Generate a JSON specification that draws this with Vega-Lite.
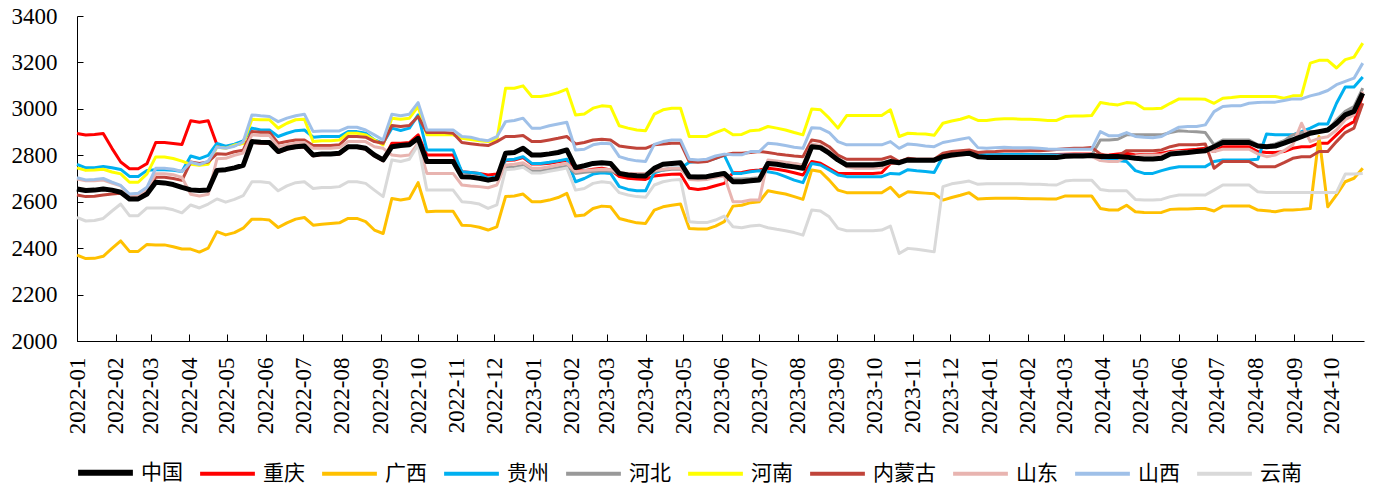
{
 "$schema": "https://vega.github.io/schema/vega-lite/v6.json",
 "width": 1287, "height": 325,
 "autosize": {"type": "none"},
 "padding": {"left": 77, "top": 16, "right": 9, "bottom": 148},
 "background": "white",
 "config": {"view": {"stroke": null}, "axis": {"grid": false}},
 "data": {"values": [
{"d":"2022-01-01","中国":2655,"重庆":2894,"广西":2370,"贵州":2761,"河北":2655,"河南":2746,"内蒙古":2629,"山东":2698,"山西":2703,"云南":2532},
{"d":"2022-01-08","中国":2648,"重庆":2887,"广西":2355,"贵州":2746,"河北":2648,"河南":2735,"内蒙古":2622,"山东":2690,"山西":2694,"云南":2517},
{"d":"2022-01-15","中国":2650,"重庆":2890,"广西":2356,"贵州":2746,"河北":2650,"河南":2737,"内蒙古":2624,"山东":2690,"山西":2696,"云南":2519},
{"d":"2022-01-22","中国":2655,"重庆":2894,"广西":2365,"贵州":2752,"河北":2655,"河南":2740,"内蒙古":2629,"山东":2693,"山西":2700,"云南":2528},
{"d":"2022-01-29","中国":2650,"重庆":2830,"广西":2399,"贵州":2746,"河北":2650,"河南":2728,"内蒙古":2633,"山东":2680,"山西":2684,"云南":2560},
{"d":"2022-02-05","中国":2641,"重庆":2771,"广西":2431,"贵州":2739,"河北":2641,"河南":2720,"内蒙古":2636,"山东":2668,"山西":2670,"云南":2590},
{"d":"2022-02-12","中国":2612,"重庆":2742,"广西":2386,"贵州":2709,"河北":2612,"河南":2684,"内蒙古":2616,"山东":2630,"山西":2633,"云南":2540},
{"d":"2022-02-19","中国":2612,"重庆":2742,"广西":2386,"贵州":2709,"河北":2612,"河南":2684,"内蒙古":2616,"山东":2630,"山西":2636,"云南":2540},
{"d":"2022-02-26","中国":2633,"重庆":2764,"广西":2416,"贵州":2735,"河北":2633,"河南":2720,"内蒙古":2641,"山东":2655,"山西":2662,"云南":2573},
{"d":"2022-03-05","中国":2684,"重庆":2855,"广西":2414,"贵州":2738,"河北":2684,"河南":2793,"内蒙古":2705,"山东":2720,"山西":2744,"云南":2573},
{"d":"2022-03-12","中国":2681,"重庆":2855,"广西":2414,"贵州":2738,"河北":2681,"河南":2793,"内蒙古":2705,"山东":2720,"山西":2744,"云南":2573},
{"d":"2022-03-19","中国":2674,"重庆":2851,"广西":2406,"贵州":2735,"河北":2674,"河南":2786,"内蒙古":2700,"山东":2716,"山西":2740,"云南":2565},
{"d":"2022-03-26","中国":2662,"重庆":2846,"广西":2396,"贵州":2730,"河北":2662,"河南":2775,"内蒙古":2692,"山东":2705,"山西":2730,"云南":2552},
{"d":"2022-04-02","中国":2651,"重庆":2949,"广西":2396,"贵州":2797,"河北":2651,"河南":2761,"内蒙古":2771,"山东":2632,"山西":2770,"云南":2586},
{"d":"2022-04-09","中国":2648,"重庆":2942,"广西":2383,"贵州":2786,"河北":2648,"河南":2757,"内蒙古":2765,"山东":2625,"山西":2760,"云南":2573},
{"d":"2022-04-16","中国":2650,"重庆":2949,"广西":2400,"贵州":2800,"河北":2650,"河南":2761,"内蒙古":2771,"山东":2632,"山西":2775,"云南":2590},
{"d":"2022-04-23","中国":2735,"重庆":2845,"广西":2471,"贵州":2851,"河北":2735,"河南":2836,"内蒙古":2807,"山东":2785,"山西":2836,"云南":2612},
{"d":"2022-04-30","中国":2738,"重庆":2835,"广西":2457,"贵州":2839,"河北":2738,"河南":2830,"内蒙古":2804,"山东":2787,"山西":2830,"云南":2598},
{"d":"2022-05-07","中国":2746,"重庆":2843,"广西":2467,"贵州":2848,"河北":2746,"河南":2844,"内蒙古":2815,"山东":2800,"山西":2839,"云南":2610},
{"d":"2022-05-14","中国":2757,"重庆":2854,"广西":2486,"贵州":2862,"河北":2757,"河南":2851,"内蒙古":2822,"山东":2810,"山西":2858,"云南":2626},
{"d":"2022-05-21","中国":2859,"重庆":2856,"广西":2525,"贵州":2917,"河北":2859,"河南":2955,"内蒙古":2902,"山东":2888,"山西":2974,"云南":2686},
{"d":"2022-05-28","中国":2856,"重庆":2853,"广西":2525,"贵州":2909,"河北":2856,"河南":2953,"内蒙古":2899,"山东":2885,"山西":2970,"云南":2686},
{"d":"2022-06-04","中国":2855,"重庆":2852,"广西":2521,"贵州":2909,"河北":2855,"河南":2953,"内蒙古":2899,"山东":2885,"山西":2967,"云南":2682},
{"d":"2022-06-11","中国":2816,"重庆":2813,"广西":2489,"贵州":2881,"河北":2816,"河南":2917,"内蒙古":2852,"山东":2837,"山西":2945,"云南":2647},
{"d":"2022-06-18","中国":2830,"重庆":2827,"广西":2509,"贵州":2895,"河北":2830,"河南":2938,"内蒙古":2859,"山东":2845,"山西":2960,"云南":2668},
{"d":"2022-06-25","中国":2837,"重庆":2834,"广西":2525,"贵州":2906,"河北":2837,"河南":2953,"内蒙古":2866,"山东":2852,"山西":2970,"云南":2682},
{"d":"2022-07-02","中国":2840,"重庆":2837,"广西":2532,"贵州":2909,"河北":2840,"河南":2955,"内蒙古":2866,"山东":2855,"山西":2977,"云南":2686},
{"d":"2022-07-09","中国":2801,"重庆":2798,"广西":2499,"贵州":2878,"河北":2801,"河南":2859,"内蒙古":2842,"山东":2830,"山西":2902,"云南":2657},
{"d":"2022-07-16","中国":2806,"重庆":2803,"广西":2503,"贵州":2881,"河北":2806,"河南":2863,"内蒙古":2842,"山东":2830,"山西":2905,"云南":2661},
{"d":"2022-07-23","中国":2806,"重庆":2803,"广西":2506,"贵州":2881,"河北":2806,"河南":2863,"内蒙古":2842,"山东":2830,"山西":2905,"云南":2661},
{"d":"2022-07-30","中国":2809,"重庆":2806,"广西":2509,"贵州":2881,"河北":2809,"河南":2866,"内蒙古":2845,"山东":2833,"山西":2905,"云南":2665},
{"d":"2022-08-06","中国":2837,"重庆":2834,"广西":2528,"贵州":2902,"河北":2837,"河南":2895,"内蒙古":2881,"山东":2859,"山西":2921,"云南":2686},
{"d":"2022-08-13","中国":2837,"重庆":2834,"广西":2528,"贵州":2902,"河北":2837,"河南":2895,"内蒙古":2881,"山东":2859,"山西":2921,"云南":2686},
{"d":"2022-08-20","中国":2830,"重庆":2827,"广西":2514,"贵州":2895,"河北":2830,"河南":2888,"内蒙古":2878,"山东":2859,"山西":2909,"云南":2679},
{"d":"2022-08-27","中国":2801,"重庆":2798,"广西":2478,"贵州":2866,"河北":2801,"河南":2866,"内蒙古":2859,"山东":2837,"山西":2888,"云南":2650},
{"d":"2022-09-03","中国":2780,"重庆":2777,"广西":2463,"贵州":2852,"河北":2780,"河南":2845,"内蒙古":2852,"山东":2830,"山西":2866,"云南":2622},
{"d":"2022-09-10","中国":2837,"重庆":2852,"广西":2614,"贵州":2917,"河北":2837,"河南":2960,"内蒙古":2928,"山东":2801,"山西":2977,"云南":2780},
{"d":"2022-09-17","中国":2842,"重庆":2852,"广西":2607,"贵州":2907,"河北":2842,"河南":2955,"内蒙古":2924,"山东":2797,"山西":2970,"云南":2773},
{"d":"2022-09-24","中国":2845,"重庆":2855,"广西":2614,"贵州":2917,"河北":2845,"河南":2960,"内蒙古":2928,"山东":2801,"山西":2977,"云南":2783},
{"d":"2022-10-01","中国":2873,"重庆":2888,"广西":2682,"贵州":2974,"河北":2873,"河南":3010,"内蒙古":2967,"山东":2852,"山西":3027,"云南":2845},
{"d":"2022-10-08","中国":2773,"重庆":2801,"广西":2557,"贵州":2823,"河北":2773,"河南":2888,"内蒙古":2898,"山东":2722,"山西":2909,"云南":2650},
{"d":"2022-10-15","中国":2773,"重庆":2801,"广西":2559,"贵州":2823,"河北":2773,"河南":2888,"内蒙古":2898,"山东":2722,"山西":2909,"云南":2650},
{"d":"2022-10-22","中国":2773,"重庆":2801,"广西":2559,"贵州":2823,"河北":2773,"河南":2888,"内蒙古":2898,"山东":2722,"山西":2909,"云南":2650},
{"d":"2022-10-29","中国":2773,"重庆":2801,"广西":2559,"贵州":2823,"河北":2773,"河南":2888,"内蒙古":2895,"山东":2722,"山西":2909,"云南":2650},
{"d":"2022-11-05","中国":2708,"重庆":2729,"广西":2499,"贵州":2729,"河北":2708,"河南":2873,"内蒙古":2855,"山东":2672,"山西":2881,"云南":2600},
{"d":"2022-11-12","中国":2706,"重庆":2726,"广西":2497,"贵州":2726,"河北":2706,"河南":2868,"内蒙古":2850,"山东":2668,"山西":2878,"云南":2597},
{"d":"2022-11-19","中国":2701,"重庆":2722,"广西":2490,"贵州":2722,"河北":2701,"河南":2863,"内蒙古":2845,"山东":2665,"山西":2868,"云南":2590},
{"d":"2022-11-26","中国":2693,"重庆":2715,"广西":2478,"贵州":2701,"河北":2693,"河南":2859,"内蒙古":2842,"山东":2660,"山西":2863,"云南":2571},
{"d":"2022-12-03","中国":2700,"重庆":2719,"广西":2492,"贵州":2708,"河北":2700,"河南":2866,"内蒙古":2859,"山东":2672,"山西":2880,"云南":2586},
{"d":"2022-12-10","中国":2809,"重庆":2778,"广西":2622,"贵州":2780,"河北":2746,"河南":3089,"内蒙古":2881,"山东":2758,"山西":2945,"云南":2738},
{"d":"2022-12-17","中国":2812,"重庆":2780,"广西":2625,"贵州":2783,"河北":2749,"河南":3089,"内蒙古":2881,"山东":2761,"山西":2950,"云南":2741},
{"d":"2022-12-24","中国":2830,"重庆":2790,"广西":2633,"贵州":2794,"河北":2756,"河南":3099,"内蒙古":2885,"山东":2768,"山西":2960,"云南":2748},
{"d":"2022-12-31","中国":2801,"重庆":2762,"广西":2600,"贵州":2765,"河北":2732,"河南":3053,"内蒙古":2859,"山东":2744,"山西":2917,"云南":2724},
{"d":"2023-01-07","中国":2801,"重庆":2762,"广西":2600,"贵州":2765,"河北":2732,"河南":3053,"内蒙古":2859,"山东":2744,"山西":2917,"云南":2724},
{"d":"2023-01-14","中国":2806,"重庆":2766,"广西":2607,"贵州":2770,"河北":2739,"河南":3060,"内蒙古":2866,"山东":2751,"山西":2927,"云南":2731},
{"d":"2023-01-21","中国":2812,"重庆":2772,"广西":2618,"贵州":2776,"河北":2746,"河南":3070,"内蒙古":2873,"山东":2758,"山西":2935,"云南":2738},
{"d":"2023-01-28","中国":2823,"重庆":2779,"广西":2636,"贵州":2783,"河北":2753,"河南":3085,"内蒙古":2881,"山东":2765,"山西":2942,"云南":2745},
{"d":"2023-02-04","中国":2747,"重庆":2737,"广西":2538,"贵州":2686,"河北":2722,"河南":2974,"内蒙古":2849,"山东":2729,"山西":2823,"云南":2650},
{"d":"2023-02-11","中国":2755,"重庆":2734,"广西":2543,"贵州":2700,"河北":2727,"河南":2978,"内蒙古":2855,"山东":2734,"山西":2826,"云南":2657},
{"d":"2023-02-18","中国":2765,"重庆":2740,"广西":2571,"贵州":2719,"河北":2730,"河南":3003,"内蒙古":2866,"山东":2737,"山西":2845,"云南":2679},
{"d":"2023-02-25","中国":2768,"重庆":2744,"广西":2581,"贵州":2725,"河北":2733,"河南":3013,"内蒙古":2869,"山东":2740,"山西":2852,"云南":2686},
{"d":"2023-03-04","中国":2765,"重庆":2737,"广西":2578,"贵州":2722,"河北":2731,"河南":3010,"内蒙古":2866,"山东":2738,"山西":2850,"云南":2682},
{"d":"2023-03-11","中国":2722,"重庆":2708,"广西":2528,"贵州":2665,"河北":2720,"河南":2927,"内蒙古":2840,"山东":2725,"山西":2794,"云南":2639},
{"d":"2023-03-18","中国":2715,"重庆":2701,"广西":2518,"贵州":2653,"河北":2715,"河南":2917,"内蒙古":2835,"山东":2722,"山西":2783,"云南":2629},
{"d":"2023-03-25","中国":2712,"重庆":2698,"广西":2509,"贵州":2647,"河北":2714,"河南":2909,"内蒙古":2830,"山东":2722,"山西":2776,"云南":2622},
{"d":"2023-04-01","中国":2711,"重庆":2696,"广西":2506,"贵州":2647,"河北":2713,"河南":2906,"内蒙古":2830,"山东":2722,"山西":2773,"云南":2619},
{"d":"2023-04-08","中国":2744,"重庆":2711,"广西":2564,"贵州":2725,"河北":2730,"河南":2977,"内蒙古":2845,"山东":2734,"山西":2847,"云南":2672},
{"d":"2023-04-15","中国":2761,"重庆":2715,"广西":2578,"贵州":2737,"河北":2736,"河南":2996,"内蒙古":2849,"山东":2740,"山西":2859,"云南":2686},
{"d":"2023-04-22","中国":2765,"重庆":2718,"广西":2585,"贵州":2744,"河北":2740,"河南":3003,"内蒙古":2852,"山东":2744,"山西":2866,"云南":2693},
{"d":"2023-04-29","中国":2768,"重庆":2719,"广西":2590,"贵州":2744,"河北":2740,"河南":3003,"内蒙古":2852,"山东":2744,"山西":2866,"云南":2696},
{"d":"2023-05-06","中国":2708,"重庆":2658,"广西":2485,"贵州":2770,"河北":2712,"河南":2881,"内蒙古":2773,"山东":2696,"山西":2783,"云南":2514},
{"d":"2023-05-13","中国":2706,"重庆":2653,"广西":2482,"贵州":2773,"河北":2710,"河南":2881,"内蒙古":2770,"山东":2693,"山西":2780,"云南":2510},
{"d":"2023-05-20","中国":2708,"重庆":2658,"广西":2482,"贵州":2775,"河北":2712,"河南":2881,"内蒙古":2773,"山东":2696,"山西":2783,"云南":2510},
{"d":"2023-05-27","中国":2715,"重庆":2669,"广西":2495,"贵州":2787,"河北":2719,"河南":2898,"内蒙古":2787,"山东":2705,"山西":2797,"云南":2521},
{"d":"2023-06-03","中国":2722,"重庆":2679,"广西":2514,"贵州":2801,"河北":2725,"河南":2912,"内蒙古":2801,"山东":2711,"山西":2805,"云南":2538},
{"d":"2023-06-10","中国":2686,"重庆":2725,"广西":2581,"贵州":2722,"河北":2698,"河南":2888,"内蒙古":2809,"山东":2600,"山西":2802,"云南":2492},
{"d":"2023-06-17","中国":2686,"重庆":2726,"广西":2585,"贵州":2722,"河北":2698,"河南":2890,"内蒙古":2809,"山东":2600,"山西":2802,"云南":2488},
{"d":"2023-06-24","中国":2690,"重庆":2733,"广西":2596,"贵州":2729,"河北":2700,"河南":2906,"内蒙古":2812,"山东":2607,"山西":2816,"云南":2495},
{"d":"2023-07-01","中国":2694,"重庆":2737,"广西":2600,"贵州":2733,"河北":2703,"河南":2909,"内蒙古":2816,"山东":2607,"山西":2816,"云南":2499},
{"d":"2023-07-08","中国":2765,"重庆":2744,"广西":2647,"贵州":2729,"河北":2775,"河南":2924,"内蒙古":2812,"山东":2780,"山西":2852,"云南":2488},
{"d":"2023-07-15","中国":2761,"重庆":2740,"广西":2640,"贵州":2722,"河北":2772,"河南":2917,"内蒙古":2806,"山东":2775,"山西":2849,"云南":2481},
{"d":"2023-07-22","中国":2755,"重庆":2733,"广西":2633,"贵州":2708,"河北":2768,"河南":2909,"内蒙古":2801,"山东":2770,"山西":2842,"云南":2475},
{"d":"2023-07-29","中国":2750,"重庆":2725,"广西":2622,"贵州":2693,"河北":2764,"河南":2898,"内蒙古":2797,"山东":2765,"山西":2835,"云南":2467},
{"d":"2023-08-05","中国":2744,"重庆":2715,"广西":2610,"贵州":2682,"河北":2758,"河南":2888,"内蒙古":2794,"山东":2758,"山西":2830,"云南":2456},
{"d":"2023-08-12","中国":2837,"重庆":2773,"广西":2737,"贵州":2765,"河北":2845,"河南":2999,"内蒙古":2866,"山东":2849,"山西":2919,"云南":2564},
{"d":"2023-08-19","中国":2833,"重庆":2766,"广西":2730,"贵州":2758,"河北":2840,"河南":2996,"内蒙古":2859,"山东":2842,"山西":2916,"云南":2560},
{"d":"2023-08-26","中国":2809,"重庆":2744,"广西":2693,"贵州":2737,"河北":2815,"河南":2960,"内蒙古":2837,"山东":2819,"山西":2898,"云南":2535},
{"d":"2023-09-02","中国":2780,"重庆":2722,"广西":2650,"贵州":2715,"河北":2786,"河南":2917,"内蒙古":2801,"山东":2783,"山西":2859,"云南":2485},
{"d":"2023-09-09","中国":2758,"重庆":2722,"广西":2639,"贵州":2708,"河北":2765,"河南":2971,"内蒙古":2783,"山东":2751,"山西":2845,"云南":2475},
{"d":"2023-09-16","中国":2758,"重庆":2722,"广西":2639,"贵州":2708,"河北":2765,"河南":2971,"内蒙古":2783,"山东":2744,"山西":2845,"云南":2475},
{"d":"2023-09-23","中国":2758,"重庆":2722,"广西":2639,"贵州":2708,"河北":2765,"河南":2971,"内蒙古":2783,"山东":2744,"山西":2845,"云南":2475},
{"d":"2023-09-30","中国":2758,"重庆":2722,"广西":2639,"贵州":2708,"河北":2765,"河南":2971,"内蒙古":2783,"山东":2744,"山西":2845,"云南":2475},
{"d":"2023-10-07","中国":2761,"重庆":2725,"广西":2639,"贵州":2708,"河北":2768,"河南":2971,"内蒙古":2783,"山东":2747,"山西":2845,"云南":2478},
{"d":"2023-10-14","中国":2773,"重庆":2765,"广西":2662,"贵州":2722,"河北":2776,"河南":2996,"内蒙古":2794,"山东":2768,"山西":2859,"云南":2495},
{"d":"2023-10-21","中国":2768,"重庆":2768,"广西":2622,"贵州":2719,"河北":2772,"河南":2881,"内蒙古":2773,"山东":2765,"山西":2830,"云南":2377},
{"d":"2023-10-28","中国":2780,"重庆":2783,"广西":2643,"贵州":2738,"河北":2780,"河南":2895,"内蒙古":2787,"山东":2780,"山西":2849,"云南":2399},
{"d":"2023-11-04","中国":2779,"重庆":2782,"广西":2640,"贵州":2733,"河北":2780,"河南":2893,"内蒙古":2783,"山东":2779,"山西":2845,"云南":2395},
{"d":"2023-11-11","中国":2779,"重庆":2782,"广西":2637,"贵州":2730,"河北":2780,"河南":2892,"内蒙古":2783,"山东":2779,"山西":2840,"云南":2390},
{"d":"2023-11-18","中国":2779,"重庆":2782,"广西":2634,"贵州":2726,"河北":2780,"河南":2886,"内蒙古":2783,"山东":2779,"山西":2837,"云南":2384},
{"d":"2023-11-25","中国":2794,"重庆":2795,"广西":2607,"贵州":2795,"河北":2795,"河南":2938,"内蒙古":2809,"山东":2790,"山西":2855,"云南":2665},
{"d":"2023-12-02","中国":2801,"重庆":2801,"广西":2618,"贵州":2802,"河北":2800,"河南":2948,"内蒙古":2816,"山东":2795,"山西":2862,"云南":2677},
{"d":"2023-12-09","中国":2805,"重庆":2806,"广西":2628,"贵州":2809,"河北":2804,"河南":2955,"内蒙古":2820,"山东":2800,"山西":2869,"云南":2683},
{"d":"2023-12-16","中国":2809,"重庆":2812,"广西":2639,"贵州":2820,"河北":2808,"河南":2967,"内蒙古":2823,"山东":2805,"山西":2876,"云南":2689},
{"d":"2023-12-23","中国":2794,"重庆":2800,"广西":2612,"贵州":2802,"河北":2795,"河南":2950,"内蒙古":2812,"山东":2790,"山西":2833,"云南":2675},
{"d":"2023-12-30","中国":2791,"重庆":2800,"广西":2614,"贵州":2802,"河北":2795,"河南":2950,"内蒙古":2815,"山东":2790,"山西":2830,"云南":2677},
{"d":"2024-01-06","中国":2791,"重庆":2801,"广西":2615,"贵州":2802,"河北":2796,"河南":2955,"内蒙古":2816,"山东":2791,"山西":2833,"云南":2677},
{"d":"2024-01-13","中国":2791,"重庆":2802,"广西":2615,"贵州":2803,"河北":2796,"河南":2957,"内蒙古":2818,"山东":2792,"山西":2835,"云南":2677},
{"d":"2024-01-20","中国":2791,"重庆":2802,"广西":2615,"贵州":2803,"河北":2796,"河南":2957,"内蒙古":2818,"山东":2792,"山西":2833,"云南":2677},
{"d":"2024-01-27","中国":2791,"重庆":2802,"广西":2614,"贵州":2803,"河北":2796,"河南":2955,"内蒙古":2818,"山东":2792,"山西":2833,"云南":2677},
{"d":"2024-02-03","中国":2791,"重庆":2802,"广西":2613,"贵州":2803,"河北":2796,"河南":2955,"内蒙古":2820,"山东":2792,"山西":2832,"云南":2675},
{"d":"2024-02-10","中国":2790,"重庆":2802,"广西":2613,"贵州":2802,"河北":2796,"河南":2953,"内蒙古":2820,"山东":2792,"山西":2830,"云南":2675},
{"d":"2024-02-17","中国":2790,"重庆":2803,"广西":2612,"贵州":2802,"河北":2796,"河南":2950,"内蒙古":2822,"山东":2792,"山西":2827,"云南":2673},
{"d":"2024-02-24","中国":2790,"重庆":2803,"广西":2612,"贵州":2801,"河北":2796,"河南":2950,"内蒙古":2825,"山东":2792,"山西":2826,"云南":2672},
{"d":"2024-03-02","中国":2796,"重庆":2805,"广西":2625,"贵州":2801,"河北":2799,"河南":2967,"内蒙古":2828,"山东":2794,"山西":2826,"云南":2689},
{"d":"2024-03-09","中国":2797,"重庆":2806,"广西":2625,"贵州":2801,"河北":2800,"河南":2969,"内蒙古":2830,"山东":2795,"山西":2826,"云南":2693},
{"d":"2024-03-16","中国":2797,"重庆":2806,"广西":2625,"贵州":2801,"河北":2800,"河南":2969,"内蒙古":2830,"山东":2795,"山西":2826,"云南":2693},
{"d":"2024-03-23","中国":2799,"重庆":2806,"广西":2625,"贵州":2801,"河北":2800,"河南":2971,"内蒙古":2834,"山东":2795,"山西":2826,"云南":2693},
{"d":"2024-03-30","中国":2795,"重庆":2797,"广西":2571,"贵州":2782,"河北":2866,"河南":3027,"内蒙古":2806,"山东":2777,"山西":2902,"云南":2653},
{"d":"2024-04-06","中国":2795,"重庆":2801,"广西":2564,"贵州":2778,"河北":2866,"河南":3021,"内蒙古":2797,"山东":2773,"山西":2884,"云南":2647},
{"d":"2024-04-13","中国":2795,"重庆":2806,"广西":2564,"贵州":2778,"河北":2869,"河南":3017,"内蒙古":2797,"山东":2773,"山西":2884,"云南":2647},
{"d":"2024-04-20","中国":2792,"重庆":2809,"广西":2585,"贵州":2773,"河北":2888,"河南":3027,"内蒙古":2820,"山东":2794,"山西":2898,"云南":2647},
{"d":"2024-04-27","中国":2787,"重庆":2801,"广西":2557,"贵州":2734,"河北":2888,"河南":3024,"内蒙古":2820,"山东":2797,"山西":2881,"云南":2610},
{"d":"2024-05-04","中国":2784,"重庆":2803,"广西":2554,"贵州":2722,"河北":2888,"河南":3000,"内蒙古":2820,"山东":2801,"山西":2878,"云南":2607},
{"d":"2024-05-11","中国":2784,"重庆":2803,"广西":2553,"贵州":2722,"河北":2888,"河南":3000,"内蒙古":2820,"山东":2801,"山西":2876,"云南":2607},
{"d":"2024-05-18","中国":2787,"重庆":2809,"广西":2554,"贵州":2734,"河北":2888,"河南":3003,"内蒙古":2823,"山东":2801,"山西":2881,"云南":2610},
{"d":"2024-05-25","中国":2806,"重庆":2816,"广西":2567,"贵州":2744,"河北":2898,"河南":3024,"内蒙古":2837,"山东":2812,"山西":2902,"云南":2622},
{"d":"2024-06-01","中国":2809,"重庆":2820,"广西":2569,"贵州":2751,"河北":2906,"河南":3043,"内蒙古":2845,"山东":2816,"山西":2921,"云南":2629},
{"d":"2024-06-08","中国":2812,"重庆":2823,"广西":2569,"贵州":2751,"河北":2903,"河南":3043,"内蒙古":2845,"山东":2816,"山西":2924,"云南":2629},
{"d":"2024-06-15","中国":2816,"重庆":2826,"广西":2571,"贵州":2751,"河北":2901,"河南":3043,"内蒙古":2845,"山东":2819,"山西":2924,"云南":2629},
{"d":"2024-06-22","中国":2820,"重庆":2830,"广西":2571,"贵州":2751,"河北":2898,"河南":3041,"内蒙古":2849,"山东":2823,"山西":2931,"云南":2629},
{"d":"2024-06-29","中国":2837,"重庆":2816,"广西":2560,"贵州":2773,"河北":2845,"河南":3024,"内蒙古":2744,"山东":2816,"山西":2988,"云南":2650},
{"d":"2024-07-06","中国":2855,"重庆":2837,"广西":2581,"贵州":2780,"河北":2866,"河南":3046,"内蒙古":2773,"山东":2826,"山西":3010,"云南":2672},
{"d":"2024-07-13","中国":2855,"重庆":2837,"广西":2582,"贵州":2780,"河北":2866,"河南":3049,"内蒙古":2773,"山东":2826,"山西":3013,"云南":2672},
{"d":"2024-07-20","中国":2855,"重庆":2837,"广西":2582,"贵州":2780,"河北":2866,"河南":3053,"内蒙古":2773,"山东":2826,"山西":3013,"云南":2672},
{"d":"2024-07-27","中国":2855,"重庆":2837,"广西":2582,"贵州":2780,"河北":2866,"河南":3053,"内蒙古":2773,"山东":2826,"山西":3024,"云南":2672},
{"d":"2024-08-03","中国":2840,"重庆":2816,"广西":2564,"贵州":2783,"河北":2845,"河南":3053,"内蒙古":2751,"山东":2806,"山西":3027,"云南":2643},
{"d":"2024-08-10","中国":2837,"重庆":2812,"广西":2561,"贵州":2892,"河北":2841,"河南":3053,"内蒙古":2751,"山东":2794,"山西":3029,"云南":2640},
{"d":"2024-08-17","中国":2840,"重庆":2812,"广西":2557,"贵州":2888,"河北":2849,"河南":3053,"内蒙古":2751,"山东":2801,"山西":3029,"云南":2640},
{"d":"2024-08-24","中国":2852,"重庆":2816,"广西":2564,"贵州":2888,"河北":2863,"河南":3046,"内蒙古":2768,"山东":2820,"山西":3036,"云南":2640},
{"d":"2024-08-31","中国":2866,"重庆":2830,"广西":2564,"贵州":2888,"河北":2888,"河南":3056,"内蒙古":2787,"山东":2845,"山西":3043,"云南":2640},
{"d":"2024-09-07","中国":2880,"重庆":2837,"广西":2567,"贵州":2902,"河北":2898,"河南":3058,"内蒙古":2794,"山东":2938,"山西":3043,"云南":2640},
{"d":"2024-09-14","中国":2895,"重庆":2837,"广西":2571,"贵州":2917,"河北":2902,"河南":3197,"内蒙古":2794,"山东":2859,"山西":3056,"云南":2640},
{"d":"2024-09-21","中国":2902,"重庆":2852,"广西":2881,"贵州":2935,"河北":2902,"河南":3209,"内蒙古":2816,"山东":2873,"山西":3065,"云南":2640},
{"d":"2024-09-28","中国":2909,"重庆":2852,"广西":2578,"贵州":2935,"河北":2906,"河南":3209,"内蒙古":2816,"山东":2880,"山西":3079,"云南":2640},
{"d":"2024-10-05","中国":2938,"重庆":2888,"广西":2629,"贵州":3024,"河北":2953,"河南":3176,"内蒙古":2859,"山东":2909,"山西":3104,"云南":2640},
{"d":"2024-10-12","中国":2974,"重庆":2924,"广西":2686,"贵州":3094,"河北":2989,"河南":3212,"内蒙古":2898,"山东":2953,"山西":3118,"云南":2719},
{"d":"2024-10-19","中国":2989,"重庆":2945,"广西":2701,"贵州":3094,"河北":3010,"河南":3223,"内蒙古":2917,"山东":2974,"山西":3132,"云南":2719},
{"d":"2024-10-26","中国":3068,"重庆":3060,"广西":2744,"贵州":3137,"河北":3089,"河南":3283,"内蒙古":3024,"山东":3075,"山西":3197,"云南":2722}
 ]},
 "transform": [{"fold": ["中国","重庆","广西","贵州","河北","河南","内蒙古","山东","山西","云南"], "as": ["s", "v"]}],
 "encoding": {
  "x": {"field": "d", "type": "temporal",
        "scale": {"type": "utc", "domain": [1640995200000, 1729987200000]},
        "axis": {"title": null, "format": "%Y-%m", "tickCount": {"interval": "month", "step": 1},
                 "labelAngle": 270, "labelFont": "Liberation Serif, Times New Roman, serif", "labelFontSize": 23, "labelColor": "#000",
                 "labelPadding": 23, "tickSize": -7, "tickColor": "#000", "domainColor": "#000",
                 "labelOverlap": false, "labelFlush": false, "labelBound": false}},
  "y": {"field": "v", "type": "quantitative",
        "scale": {"domain": [2000, 3400], "zero": false, "nice": false},
        "axis": {"title": null, "values": [2000, 2200, 2400, 2600, 2800, 3000, 3200, 3400], "format": "d",
                 "labelFont": "Liberation Serif, Times New Roman, serif", "labelFontSize": 23, "labelColor": "#000",
                 "tickSize": -6, "labelPadding": 26, "tickColor": "#000", "domainColor": "#000"}},
  "color": {"field": "s", "type": "nominal",
            "scale": {"domain": ["中国","重庆","广西","贵州","河北","河南","内蒙古","山东","山西","云南"],
                      "range": ["#000000","#FF0000","#FFC000","#00B0F0","#999999","#FFFF00","#C0443A","#E8B4B0","#9FC0E8","#D9D9D9"]},
            "legend": {"title": null, "orient": "none", "legendX": 18, "legendY": 446, "direction": "horizontal", "columns": 10,
                       "symbolType": "stroke", "symbolSize": 3000, "symbolStrokeWidth": 4,
                       "labelFont": "Noto Sans CJK SC", "labelFontSize": 21, "labelColor": "#000",
                       "labelOffset": 25, "columnPadding": 9,
                       "encode": {"symbols": {"update": {"strokeWidth": {"signal": "datum.value === '中国' ? 6 : 4"}}}}}}
 },
 "layer": [
  {"transform": [{"filter": "datum.s !== '中国'"}], "mark": {"type": "line", "strokeWidth": 3, "strokeJoin": "round"}},
  {"transform": [{"filter": "datum.s === '中国'"}], "mark": {"type": "line", "strokeWidth": 5, "strokeJoin": "round"}}
 ]
}
